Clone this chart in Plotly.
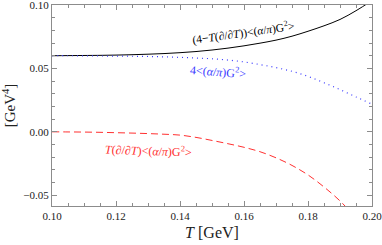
import plotly.graph_objects as go

T = [0.100, 0.105, 0.110, 0.115, 0.120, 0.125, 0.130, 0.135, 0.140, 0.145, 0.150,
     0.155, 0.160, 0.165, 0.170, 0.175, 0.180, 0.185, 0.190, 0.195, 0.200]

G4 = [0.0600, 0.0600, 0.0599, 0.0598, 0.0597, 0.0596, 0.0594, 0.0591, 0.0587, 0.0582, 0.0576,
      0.0566, 0.0551, 0.0530, 0.0506, 0.0477, 0.0437, 0.0387, 0.0333, 0.0275, 0.0218]

TdG = [0.0000, -0.0001, -0.0002, -0.0004, -0.0007, -0.0010, -0.0014, -0.0019, -0.0026, -0.0044, -0.0068,
       -0.0094, -0.0122, -0.0157, -0.0205, -0.0265, -0.0340, -0.0435, -0.0545, -0.0680, -0.0840]

Total = [0.0600, 0.0601, 0.0602, 0.0603, 0.0605, 0.0608, 0.0612, 0.0617, 0.0624, 0.0633, 0.0645,
         0.0660, 0.0678, 0.0699, 0.0723, 0.0754, 0.0793, 0.0836, 0.0886, 0.0955, 0.1035]

x_ticks = [0.10, 0.12, 0.14, 0.16, 0.18, 0.20]
y_ticks = [-0.05, 0.00, 0.05, 0.10]

SERIF = "Liberation Serif, Times New Roman, serif"
AXC = "#8c8c8c"

fig = go.Figure()
fig.add_trace(go.Scatter(x=T, y=Total, mode="lines", line=dict(color="black", width=1), line_shape="spline"))
fig.add_trace(go.Scatter(x=T, y=G4, mode="lines", line=dict(color="#3a3aff", width=1.2, dash="1px,4px"), line_shape="spline"))
fig.add_trace(go.Scatter(x=T, y=TdG, mode="lines", line=dict(color="#ff3030", width=1, dash="7px,4px"), line_shape="spline"))

axis_common = dict(
    showgrid=False, zeroline=False, showline=True, linecolor=AXC, linewidth=1,
    mirror="ticks", ticks="inside", ticklen=5, tickcolor=AXC, tickwidth=1,
    tickfont=dict(family=SERIF, size=11, color="#222"), automargin=False,
    ticklabeloverflow="allow",
)

fig.update_xaxes(range=[0.10, 0.200001], tickvals=x_ticks, tickformat=".2f",
                 minor=dict(dtick=0.005, ticks="inside", ticklen=3, tickcolor=AXC),
                 title=dict(text="<i>T</i> [GeV]", font=dict(family=SERIF, size=16, color="#222"), standoff=5),
                 **axis_common)
fig.update_yaxes(range=[-0.0585, 0.10], tickvals=y_ticks, tickformat=".2f",
                 minor=dict(dtick=0.01, ticks="inside", ticklen=3, tickcolor=AXC),
                 title=dict(text="[GeV<sup>4</sup>]", font=dict(family=SERIF, size=15, color="#222"), standoff=6),
                 **axis_common)

fig.add_annotation(x=0.1597, y=0.0782, xref="x", yref="y", showarrow=False, textangle=-8,
                   text="(4−<i>T</i>(∂/∂<i>T</i>))&lt;(<i>α</i>/<i>π</i>)G<sup>2</sup>&gt;",
                   font=dict(family=SERIF, size=11.5, color="black"))
fig.add_annotation(x=0.1518, y=0.0475, xref="x", yref="y", showarrow=False, textangle=4,
                   text="4&lt;(<i>α</i>/<i>π</i>)G<sup>2</sup>&gt;",
                   font=dict(family=SERIF, size=12, color="#3a3aff"))
fig.add_annotation(x=0.1300, y=-0.0145, xref="x", yref="y", showarrow=False, textangle=2,
                   text="<i>T</i>(∂/∂<i>T</i>)&lt;(<i>α</i>/<i>π</i>)G<sup>2</sup>&gt;",
                   font=dict(family=SERIF, size=12, color="#ff3030"))

fig.update_layout(width=382, height=245, margin=dict(l=52, r=10, t=5, b=39),
                  plot_bgcolor="white", paper_bgcolor="white", showlegend=False)

fig.write_html("out.html", config={"displayModeBar": False},
               post_script="document.body.style.margin='0';document.body.style.padding='0';")
